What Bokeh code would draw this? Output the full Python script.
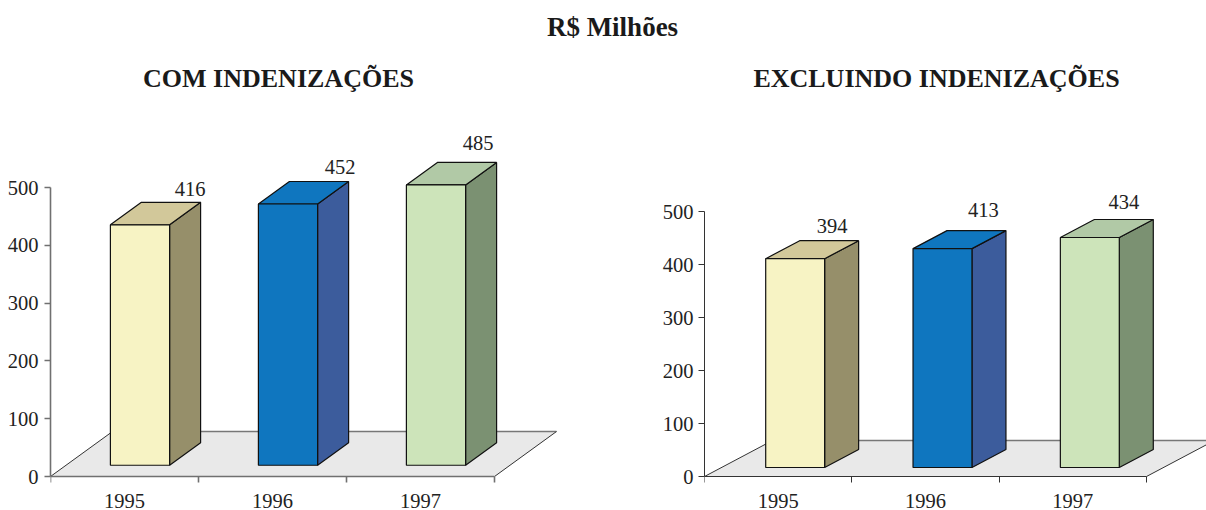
from bokeh.embed import file_html
from bokeh.layouts import column, row
from bokeh.models import ColumnDataSource, FixedTicker, Label, LinearAxis, Range1d
from bokeh.plotting import figure
from bokeh.resources import INLINE
from bokeh.core.properties import value

# ---- data ----
years = ["1995", "1996", "1997"]
com_indenizacoes = [416, 452, 485]
excluindo_indenizacoes = [394, 413, 434]
y_ticks = [0, 100, 200, 300, 400, 500]
main_title = "R$ Milhões"
left_title = "COM INDENIZAÇÕES"
right_title = "EXCLUINDO INDENIZAÇÕES"

# ---- colours per year: front, top, side ----
front_colors = ["#F7F3C4", "#0F76BF", "#CDE4BA"]
top_colors = ["#D2C89A", "#0F76BF", "#B1C9A6"]
side_colors = ["#968F6A", "#3C5C9C", "#7B9172"]
FLOOR = "#E9E9E9"
FONT = "Liberation Serif"
INK = "#222222"
LABEL_SIZE = "20.5px"


def chart(values, width, border_left, x_end, y_scale, depth_x, depth_y, dx_px, dy_px, axis_color, axis_width, y_standoff):
    p = figure(width=width, height=410, output_backend="svg", toolbar_location=None,
               x_range=Range1d(0, x_end), y_range=Range1d(-34 / y_scale, 376 / y_scale),
               x_axis_type=None, y_axis_type=None,
               min_border_left=border_left, min_border_right=0,
               min_border_top=0, min_border_bottom=0,
               outline_line_color=None)
    p.grid.visible = False
    n = len(values)

    # floor
    p.patch([0, n, n + depth_x, depth_x], [0, 0, depth_y, depth_y], color=FLOOR, line_color=None)
    p.line([0, depth_x], [0, depth_y], line_color="#333333", line_width=1)
    p.line([depth_x, n + depth_x], [depth_y, depth_y], line_color="#777777", line_width=1.5)
    p.line([n, n + depth_x], [0, depth_y], line_color="#333333", line_width=1)

    # oblique bars: depth runs from 1/4 to 3/4 of the floor, width 0.4 of a category
    d0, d1 = 0.25, 0.75
    fx = []
    fy = []
    sx = []
    sy = []
    tx = []
    ty = []
    for i, v in enumerate(values):
        xl, xr = i + 0.3, i + 0.7
        ax, ay = depth_x * d0, depth_y * d0
        bx, by = depth_x * d1, depth_y * d1
        fx.append([xl + ax, xr + ax, xr + ax, xl + ax])
        fy.append([ay, ay, v + ay, v + ay])
        sx.append([xr + ax, xr + bx, xr + bx, xr + ax])
        sy.append([ay, by, v + by, v + ay])
        tx.append([xl + ax, xr + ax, xr + bx, xl + bx])
        ty.append([v + ay, v + ay, v + by, v + by])
    p.patches(sx, sy, fill_color=side_colors, line_color="#111111", line_width=1.2)
    p.patches(tx, ty, fill_color=top_colors, line_color="#111111", line_width=1.2)
    p.patches(fx, fy, fill_color=front_colors, line_color="#111111", line_width=1.2)

    # value labels
    src = ColumnDataSource(dict(
        x=[i + 0.5 + depth_x * d1 for i in range(n)],
        y=[v + depth_y * d1 for v in values],
        t=[str(v) for v in values],
        xo=dx_px, yo=dy_px,
    ))
    p.text("x", "y", text="t", source=src, x_offset="xo", y_offset="yo",
           text_font=value(FONT), text_font_size=LABEL_SIZE, text_color=INK,
           text_align="center", text_baseline="middle")

    # axes
    yax = LinearAxis(ticker=FixedTicker(ticks=y_ticks), bounds=(0, 500))
    xax = LinearAxis(ticker=FixedTicker(ticks=[i + 0.5 for i in range(n)],
                                        minor_ticks=list(range(n + 1))),
                     bounds=(0, n), fixed_location=0,
                     major_label_overrides={i + 0.5: years[i] for i in range(n)})
    for ax in (xax, yax):
        ax.axis_line_color = axis_color
        ax.axis_line_width = axis_width
        ax.major_tick_line_color = axis_color
        ax.major_tick_line_width = axis_width
        ax.minor_tick_line_color = axis_color
        ax.minor_tick_line_width = axis_width
        ax.major_tick_in = 0
        ax.minor_tick_in = 0
        ax.minor_tick_out = 0
        ax.major_label_text_font = FONT
        ax.major_label_text_font_size = LABEL_SIZE
        ax.major_label_text_color = INK
    yax.major_tick_out = 6
    yax.major_label_standoff = y_standoff
    xax.major_tick_out = 0
    xax.minor_tick_out = 6
    xax.major_label_standoff = 11
    xax.major_label_orientation = "horizontal"
    p.add_layout(yax, "left")
    p.add_layout(xax, "below")
    return p


p1 = chart(com_indenizacoes, 650, 50, 600 / 148, 0.578, 62 / 148, 45 / 0.578,
           [19, 21, 11], [-13, -14, -19], "#707070", 1.6, 6)
p2 = chart(excluindo_indenizacoes, 556, 54, 502 / 147.33, 0.53, 68 / 147.33, 36 / 0.53,
           [3, 7, 0], [-15, -21, -17], "#333333", 1, 5)

header = figure(width=1206, height=100, output_backend="svg", toolbar_location=None,
                x_axis_type=None, y_axis_type=None, outline_line_color=None,
                x_range=Range1d(0, 1206), y_range=Range1d(0, 100),
                min_border=0)
header.grid.visible = False
for text, cx, cy, size in [(main_title, 612, 26, "27px"), (left_title, 278, 78, "26px"), (right_title, 936, 78, "26px")]:
    header.add_layout(Label(x=cx, y=100 - cy, text=text, text_font=FONT,
                            text_font_style="bold", text_font_size=size, text_color="#1a1a1a",
                            text_align="center", text_baseline="middle"))

page = column(header, row(p1, p2, spacing=0), spacing=0)
open("out.html", "w").write(file_html(page, INLINE))
